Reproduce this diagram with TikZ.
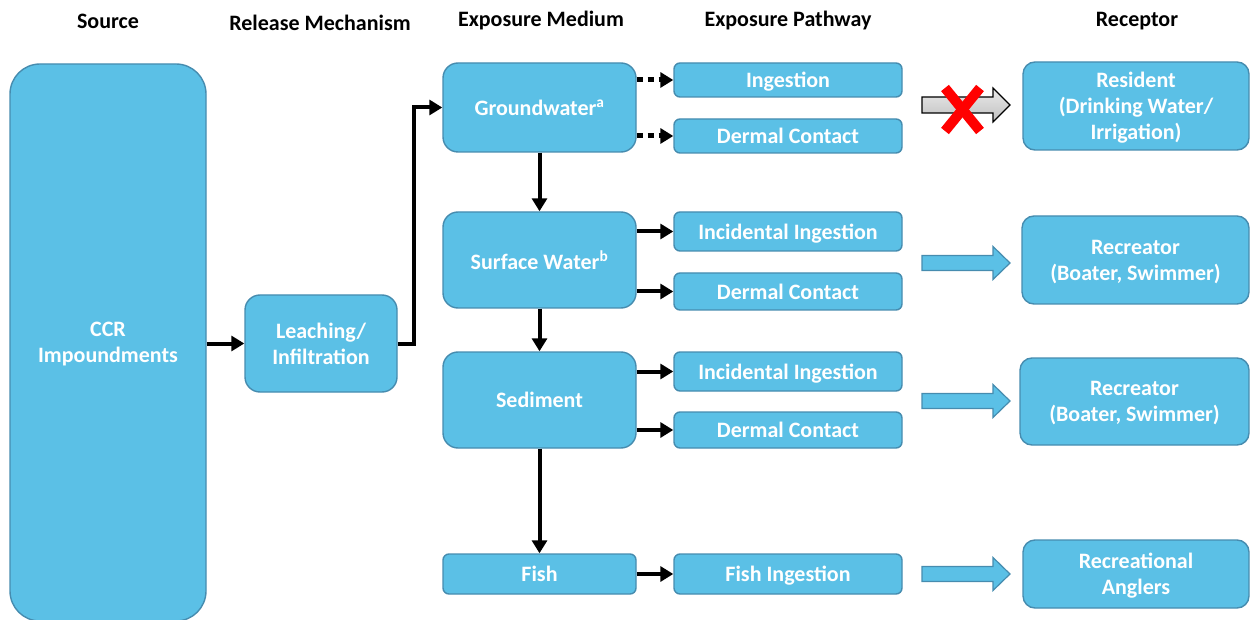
\documentclass[tikz,border=0pt]{standalone}
\usepackage{fontspec}
\setmainfont{Carlito}
\usetikzlibrary{arrows.meta}
\definecolor{boxfill}{RGB}{91,192,230}
\definecolor{boxline}{RGB}{70,140,175}
\definecolor{xred}{RGB}{255,0,0}
\begin{document}
\begin{tikzpicture}[x=1pt,y=-1pt,
  every node/.style={font=\fontsize{22}{26}\selectfont\bfseries},
  hdr/.style={text=black, anchor=center},
  box/.style={draw=boxline, fill=boxfill, line width=1.4pt, text=white, align=center, inner sep=0pt, text depth=0pt},
  bigbox/.style={box, rounded corners=15pt},
  smallbox/.style={box, rounded corners=6pt},
  recbox/.style={box, rounded corners=12pt},
  conn/.style={line width=4pt, -{Triangle[length=13pt,width=15pt]}},
  dconn/.style={line width=5pt, dash pattern=on 6pt off 5pt, -{Triangle[length=13pt,width=15pt]}},
  blockarrow/.style={draw=boxline, fill=boxfill, line width=1.2pt, line join=miter},
]
\useasboundingbox (0,0) rectangle (1250,620);
\begin{scope}
\clip (0,0) rectangle (1250,620);
% headers
\node[hdr] (h1) at (108,21) {Source};
\node[hdr] (h2) at (320,23) {Release Mechanism};
\node[hdr] (h3) at (541,21) {Exposure Medium};
\node[hdr] (h4) at (788,21) {Exposure Pathway};
\node[hdr] (h5) at (1137,21) {Receptor};

% source
\node[box, rounded corners=30pt, minimum width=196pt, minimum height=557pt] (ccr) at (108,342.5) {CCR\\Impoundments};
% release
\node[bigbox, minimum width=152pt, minimum height=97pt] (leach) at (321,343.5) {Leaching/\\Infiltration};
% media
\node[bigbox, minimum width=193pt, minimum height=89pt] (gw) at (539.5,107.5) {Groundwater\textsuperscript{a}};
\node[bigbox, minimum width=193pt, minimum height=96pt] (sw) at (539.5,260) {Surface Water\textsuperscript{b}};
\node[bigbox, minimum width=193pt, minimum height=96pt] (sed) at (539.5,400) {Sediment};
\node[smallbox, minimum width=193pt, minimum height=40pt] (fish) at (539.5,574) {Fish};
% pathways
\node[smallbox, minimum width=228pt, minimum height=34pt] (p1) at (788,80) {Ingestion};
\node[smallbox, minimum width=228pt, minimum height=34pt] (p2) at (788,136) {Dermal Contact};
\node[smallbox, minimum width=228pt, minimum height=39pt] (p3) at (788,231.5) {Incidental Ingestion};
\node[smallbox, minimum width=228pt, minimum height=37pt] (p4) at (788,291.5) {Dermal Contact};
\node[smallbox, minimum width=228pt, minimum height=39pt] (p5) at (788,371.5) {Incidental Ingestion};
\node[smallbox, minimum width=228pt, minimum height=36pt] (p6) at (788,430) {Dermal Contact};
\node[smallbox, minimum width=228pt, minimum height=40pt] (p7) at (788,574) {Fish Ingestion};
% receptors
\node[recbox, minimum width=226pt, minimum height=88pt] (r1) at (1136,106) {Resident\\(Drinking Water/\\Irrigation)};
\node[recbox, minimum width=227pt, minimum height=88pt] (r2) at (1135.5,260) {Recreator\\(Boater, Swimmer)};
\node[recbox, minimum width=229pt, minimum height=87pt] (r3) at (1134.5,401.5) {Recreator\\(Boater, Swimmer)};
\node[recbox, minimum width=226pt, minimum height=68pt] (r4) at (1136,574) {Recreational\\Anglers};

% connectors
\draw[conn] (leach.west -| ccr.east) -- (leach.west);
\draw[conn] (leach.east) -- ++(16,0) |- (gw.west);
\draw[conn] (gw.south) -- (sw.north);
\draw[conn] (sw.south) -- (sed.north);
\draw[conn] (sed.south) -- (fish.north);
\draw[dconn] (p1.west -| gw.east) -- (p1.west);
\draw[dconn] (p2.west -| gw.east) -- (p2.west);
\draw[conn] (p3.west -| sw.east) -- (p3.west);
\draw[conn] (p4.west -| sw.east) -- (p4.west);
\draw[conn] (p5.west -| sed.east) -- (p5.west);
\draw[conn] (p6.west -| sed.east) -- (p6.west);
\draw[conn] (fish.east) -- (p7.west);

% block arrows
\shade[top color=black!8, bottom color=black!25, draw=black, line width=1.2pt]
  (922,97) -- (993,97) -- (993,88) -- (1010,105) -- (993,122) -- (993,113) -- (922,113) -- cycle;
\draw[xred, line width=10pt] (945,88) -- (980,131);
\draw[xred, line width=10pt] (980,88) -- (945,131);
\foreach \yc in {263,401,574}{
  \draw[blockarrow] (922,\yc-7.5) -- (993,\yc-7.5) -- (993,\yc-16.5) -- (1010,\yc) -- (993,\yc+16.5) -- (993,\yc+7.5) -- (922,\yc+7.5) -- cycle;
}
\end{scope}
\end{tikzpicture}
\end{document}
